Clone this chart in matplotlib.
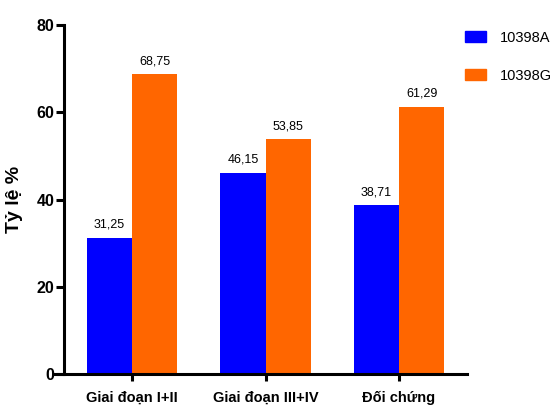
import numpy as np
import matplotlib
matplotlib.use("Agg")
import matplotlib.pyplot as plt
from matplotlib.patches import Patch

groups = ["Giai đoạn I+II", "Giai đoạn III+IV", "Đối chứng"]
val_a = [31.25, 46.15, 38.71]
val_g = [68.75, 53.85, 61.29]
labels = ["10398A", "10398G"]
colors = ["#0000FF", "#FF6600"]

plt.rcParams['font.family'] = ['Liberation Sans', 'DejaVu Sans']

fig = plt.figure(figsize=(5.58, 4.07), dpi=100)
ax = fig.add_axes([0.0986, 0.081, 0.7384, 0.8576])

x = np.arange(len(groups))
w = 0.34
bars_a = ax.bar(x - w/2, val_a, w, color=colors[0])
bars_g = ax.bar(x + w/2, val_g, w, color=colors[1])

# value labels with comma decimals
for bars, vals in [(bars_a, val_a), (bars_g, val_g)]:
    for b, v in zip(bars, vals):
        ax.text(b.get_x() + b.get_width()/2, v + 1.6, f"{v:.2f}".replace(".", ","),
                ha='center', va='bottom', fontsize=9)

ax.set_xlim(-0.577, 2.51)
ax.set_ylim(0, 80)
ax.spines['left'].set_position(('data', -0.509))
ax.spines['top'].set_visible(False)
ax.spines['right'].set_visible(False)
for s in ['left', 'bottom']:
    ax.spines[s].set_linewidth(2.2)

ax.set_yticks([0, 20, 40, 60, 80])
ax.set_xticks(x)
ax.set_xticklabels(groups, fontsize=10.5, fontweight='bold')
ax.tick_params(axis='y', length=6, width=2.2, labelsize=11.5, pad=1)
ax.tick_params(axis='x', length=5, width=2.2, pad=7)
for t in ax.get_yticklabels():
    t.set_fontweight('bold')

ax.set_ylabel("Tỷ lệ %", fontsize=14, fontweight='bold', labelpad=10)

handles = [Patch(color=c) for c in colors]
fig.legend(handles, labels, loc='upper left', bbox_to_anchor=(0.833, 0.925),
           frameon=False, fontsize=10.5, handlelength=1.45, handleheight=0.8,
           labelspacing=1.65, handletextpad=0.95, borderpad=0, borderaxespad=0)

fig.savefig("out.png", dpi=100)
